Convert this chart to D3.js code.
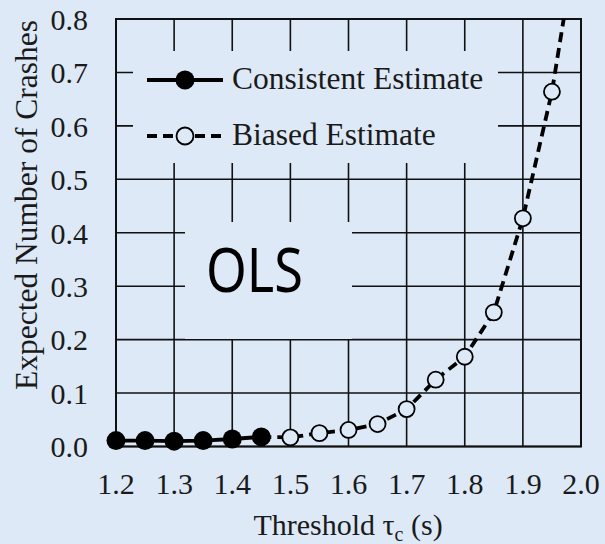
<!DOCTYPE html>
<html>
<head>
<meta charset="utf-8">
<script src="https://cdn.jsdelivr.net/npm/d3@7"></script>
<style>
  html, body { margin: 0; padding: 0; background: #dde9f6; }
  svg { display: block; }
</style>
</head>
<body>
<svg id="chart" width="605" height="544"></svg>
<script>
// ---- data ----
const consistentX = [1.2, 1.25, 1.3, 1.35, 1.4, 1.45];
const consistentY = [0.011, 0.011, 0.010, 0.011, 0.014, 0.018];
const biasedX = [1.45, 1.5, 1.55, 1.6, 1.65, 1.7, 1.75, 1.8, 1.85, 1.9, 1.95, 2.0];
const biasedY = [0.018, 0.017, 0.025, 0.031, 0.042, 0.070, 0.125, 0.168, 0.251, 0.427, 0.664, 1.0];
const xTicks = [1.2, 1.3, 1.4, 1.5, 1.6, 1.7, 1.8, 1.9, 2.0];
const yTicks = [0.0, 0.1, 0.2, 0.3, 0.4, 0.5, 0.6, 0.7, 0.8];
const legendLabels = ["Consistent Estimate", "Biased Estimate"];
const panelLabel = "OLS";

const BG = "#dde9f6";
const TXT = "#1a1a1a";
const svg = d3.select("#chart");
const x = d3.scaleLinear().domain([1.2, 2.0]).range([116, 581]);
const y = d3.scaleLinear().domain([0, 0.8]).range([446.5, 19]);
const serif = "'Liberation Serif', 'Times New Roman', serif";

svg.append("rect").attr("width", 605).attr("height", 544).attr("fill", BG);

// gridlines
const grid = svg.append("g").attr("stroke", "#111").attr("stroke-width", 1.6);
grid.selectAll("line.v").data(xTicks).join("line")
  .attr("x1", d => x(d)).attr("x2", d => x(d))
  .attr("y1", y(0.8)).attr("y2", y(0));
grid.selectAll("line.h").data(yTicks).join("line")
  .attr("y1", d => y(d)).attr("y2", d => y(d))
  .attr("x1", x(1.2)).attr("x2", x(2.0));

// boxes hiding gridlines
svg.append("rect").attr("x", 133).attr("y", 51).attr("width", 365).attr("height", 112).attr("fill", BG);
svg.append("rect").attr("x", 185).attr("y", 222).attr("width", 167).attr("height", 117).attr("fill", BG);

// frame
svg.append("rect").attr("x", x(1.2)).attr("y", y(0.8))
  .attr("width", x(2.0) - x(1.2)).attr("height", y(0) - y(0.8))
  .attr("fill", "none").attr("stroke", "#111").attr("stroke-width", 2);

// axis tick labels
svg.append("g").selectAll("text").data(xTicks).join("text")
  .attr("x", d => x(d)).attr("y", 494)
  .attr("text-anchor", "middle")
  .attr("font-family", serif).attr("font-size", 30).attr("fill", TXT)
  .text(d => d3.format(".1f")(d));
svg.append("g").selectAll("text").data(yTicks).join("text")
  .attr("x", 88).attr("y", d => y(d)).attr("dy", "0.36em")
  .attr("text-anchor", "end")
  .attr("font-family", serif).attr("font-size", 30).attr("fill", TXT)
  .text(d => d3.format(".1f")(d));

// axis titles
const xt = svg.append("text").attr("x", 348).attr("y", 535)
  .attr("text-anchor", "middle")
  .attr("font-family", serif).attr("font-size", 30).attr("fill", TXT);
xt.append("tspan").text("Threshold \u03C4");
xt.append("tspan").attr("font-size", 20).attr("dy", 6).text("c");
xt.append("tspan").attr("dy", -6).text(" (s)");

svg.append("text").attr("transform", "translate(37,205) rotate(-90)")
  .attr("text-anchor", "middle")
  .attr("font-family", serif).attr("font-size", 31.5).attr("fill", TXT)
  .text("Expected Number of Crashes");

// OLS label
svg.append("text").attr("x", 206).attr("y", 292)
  .attr("font-family", "'Noto Sans', sans-serif").attr("font-size", 62)
  .attr("textLength", 97).attr("lengthAdjust", "spacingAndGlyphs")
  .attr("fill", "#000").text(panelLabel);

// clip
svg.append("clipPath").attr("id", "clip").append("rect")
  .attr("x", x(1.2) - 15).attr("y", y(0.8))
  .attr("width", x(2.0) - x(1.2) + 30).attr("height", y(0) - y(0.8) + 15);
const plot = svg.append("g").attr("clip-path", "url(#clip)");

const line = d3.line().x(d => x(d[0])).y(d => y(d[1]));
const bData = biasedX.map((v, i) => [v, biasedY[i]]);
const cData = consistentX.map((v, i) => [v, consistentY[i]]);

plot.append("path").datum(bData).attr("d", line)
  .attr("fill", "none").attr("stroke", "#000").attr("stroke-width", 3.8)
  .attr("stroke-dasharray", "10,6");
plot.selectAll("circle.b").data(bData).join("circle")
  .attr("cx", d => x(d[0])).attr("cy", d => y(d[1])).attr("r", 8)
  .attr("fill", BG).attr("stroke", "#000").attr("stroke-width", 1.8);

plot.append("path").datum(cData).attr("d", line)
  .attr("fill", "none").attr("stroke", "#000").attr("stroke-width", 3.8);
plot.selectAll("circle.c").data(cData).join("circle")
  .attr("cx", d => x(d[0])).attr("cy", d => y(d[1])).attr("r", 9.5)
  .attr("fill", "#000");

// legend
const lg = svg.append("g");
lg.append("line").attr("x1", 147).attr("x2", 223).attr("y1", 80).attr("y2", 80)
  .attr("stroke", "#000").attr("stroke-width", 3.8);
lg.append("circle").attr("cx", 185).attr("cy", 80).attr("r", 9.5).attr("fill", "#000");
lg.append("line").attr("x1", 147).attr("x2", 225).attr("y1", 136).attr("y2", 136)
  .attr("stroke", "#000").attr("stroke-width", 3.8).attr("stroke-dasharray", "10,6");
lg.append("circle").attr("cx", 185).attr("cy", 136).attr("r", 8.5)
  .attr("fill", BG).attr("stroke", "#000").attr("stroke-width", 1.8);
lg.selectAll("text").data(legendLabels).join("text")
  .attr("x", 232).attr("y", (d, i) => 89 + i * 56)
  .attr("font-family", serif).attr("font-size", 31.5).attr("fill", TXT)
  .text(d => d);
</script>
</body>
</html>
